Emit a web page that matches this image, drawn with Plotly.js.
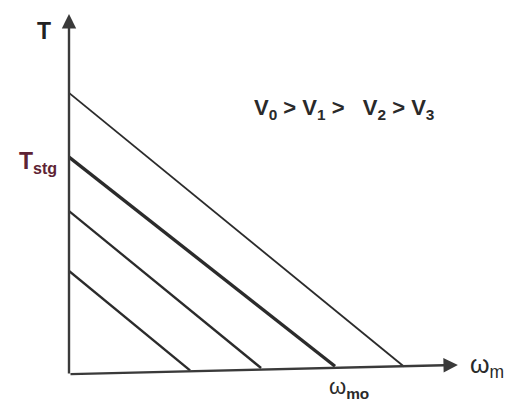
<!DOCTYPE html>
<html>
<head>
<meta charset="utf-8">
<script src="https://cdn.plot.ly/plotly-3.0.1.min.js"></script>
<style>
  html, body { margin: 0; padding: 0; background: #ffffff; }
  #chart { width: 507px; height: 405px; }
</style>
</head>
<body>
<div id="chart"></div>
<script>
// Torque–speed characteristics for four supply voltages (per-unit: Tstg = 1, ω_m0 = 1)
const voltages   = ['V0', 'V1', 'V2', 'V3'];
const startT     = [1.294, 1.0, 0.752, 0.477];   // torque at standstill
const endOmega   = [1.259, 1.0, 0.722, 0.455];   // speed where torque reaches the axis
const endT       = [0.039, 0.040, 0.032, 0.021]; // axis height at that speed
const lineWidths = [1.8, 3.4, 2.4, 2.4];

const traces = voltages.map((v, i) => ({
  type: 'scatter',
  mode: 'lines',
  name: v,
  x: [0, endOmega[i]],
  y: [startT[i], endT[i]],
  line: { color: '#2b2b2b', width: lineWidths[i] },
  hoverinfo: 'skip',
  showlegend: false
}));

const axisColor = '#3a3a3a';
const font = 'Liberation Sans, Arial, sans-serif';

const layout = {
  width: 507,
  height: 405,
  margin: { l: 69, r: 47, t: 14, b: 30 },
  paper_bgcolor: '#ffffff',
  plot_bgcolor: '#ffffff',
  xaxis: { range: [0, 1.47], visible: false, fixedrange: true },
  yaxis: { range: [0, 1.656], visible: false, fixedrange: true },
  showlegend: false,
  annotations: [
    // T axis with arrow
    { x: 0, y: 1.656, ax: 0, ay: 0, xref: 'x', yref: 'y', axref: 'x', ayref: 'y',
      text: '', showarrow: true, arrowhead: 2, arrowsize: 1.2, arrowwidth: 2.4,
      arrowcolor: axisColor, standoff: 0, startstandoff: 0 },
    // ω axis with arrow
    { x: 1.462, y: 0.046, ax: 0, ay: 0.004, xref: 'x', yref: 'y', axref: 'x', ayref: 'y',
      text: '', showarrow: true, arrowhead: 2, arrowsize: 1.2, arrowwidth: 2.4,
      arrowcolor: axisColor, standoff: 0, startstandoff: 0 },
    { x: 44, y: 31, text: '<b>T</b>',
      showarrow: false, font: { family: font, size: 23, color: '#222' } },
    { x: 38, y: 162, text: '<b>T<sub>stg</sub></b>', showarrow: false,
      font: { family: font, size: 23, color: '#5e2334' } },
    { x: 344, y: 109,
      text: '<b>V<sub>0</sub>&nbsp;&gt;&nbsp;V<sub>1</sub>&nbsp;&gt;&nbsp;&nbsp;&nbsp;V<sub>2</sub>&nbsp;&gt;&nbsp;V<sub>3</sub></b>',
      showarrow: false, font: { family: font, size: 22, color: '#2a2a2a' } },
    { x: 487, y: 366, text: 'ω<sub>m</sub>', showarrow: false,
      font: { family: font, size: 25, color: '#2a2a2a' } },
    { x: 349, y: 388, text: 'ω<sub><b>mo</b></sub>', showarrow: false,
      font: { family: font, size: 22, color: '#2a2a2a' } }
  ]
};

// Text labels are positioned in screen pixels; convert to paper fractions
const plotW = 507 - 69 - 47, plotH = 405 - 14 - 30;
layout.annotations.forEach(a => {
  if (a.showarrow === false) {
    a.xref = 'paper'; a.yref = 'paper';
    a.x = (a.x - 69) / plotW;
    a.y = (405 - 30 - a.y) / plotH;
    a.xanchor = 'center'; a.yanchor = 'middle';
  }
});

Plotly.newPlot('chart', traces, layout, { displayModeBar: false, staticPlot: true });
</script>
</body>
</html>
